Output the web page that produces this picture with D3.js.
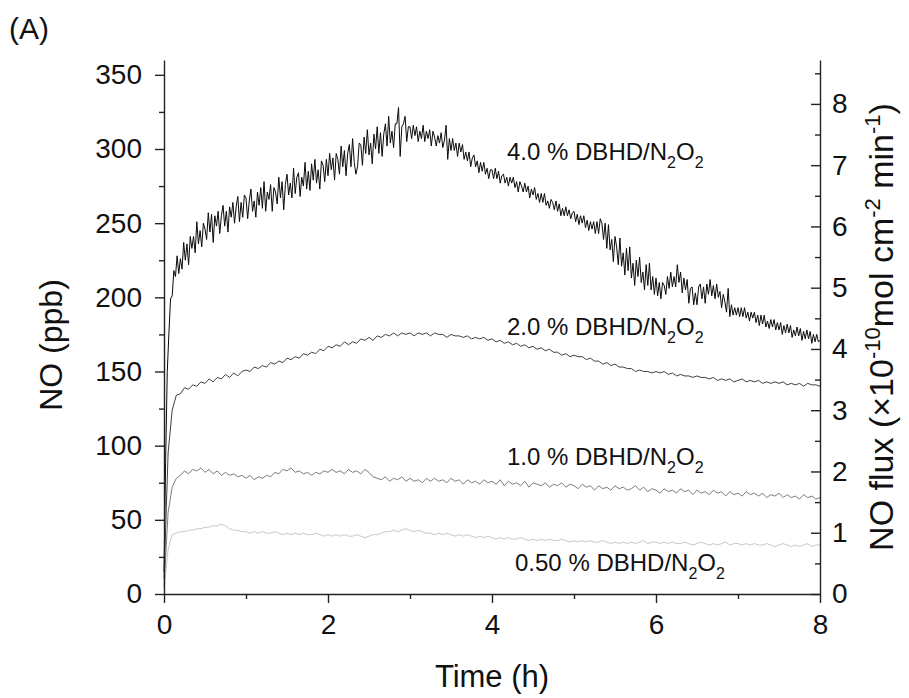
<!DOCTYPE html>
<html>
<head>
<meta charset="utf-8">
<script src="https://cdn.jsdelivr.net/npm/d3@7"></script>
<style>
  body { margin: 0; background: #fff; }
  text { font-family: "Liberation Sans", Arial, sans-serif; fill: #111; }
</style>
</head>
<body>
<div id="chart"></div>
<script>
// time grids (h)
var t02 = d3.range(0, 401).map(i => i * 0.02)
var t05 = d3.range(0, 161).map(i => i * 0.05)

// 4.0 % DBHD/N2O2, NO (ppb), every 0.02 h
var s40 = [15,90,150,176,199,201,218,214,228,216,226,219,237,225,236,222,241,233,241,230,251,236,245,234,250,246,239,257,244,256,237,255,248,258,243,255,262,248,258,244,261,254,264,250,261,268,251,264,254,269,
 267,253,265,273,258,265,254,271,262,274,260,278,258,271,266,276,258,274,271,263,281,267,278,259,276,283,269,277,267,287,270,281,284,268,281,275,291,273,285,272,290,279,293,277,286,273,292,289,278,293,
 282,297,286,294,279,297,293,283,302,288,299,282,297,303,288,307,291,283,288,304,303,289,308,297,313,296,304,290,310,300,315,297,311,295,310,317,302,322,304,312,301,317,317,328,295,315,317,322,305,315,
 315,307,316,309,315,305,312,307,316,305,312,307,313,302,312,308,302,309,304,311,301,306,316,293,307,299,307,299,304,295,304,298,303,293,298,292,298,288,294,296,288,292,284,291,285,291,283,287,280,286,
 286,280,287,280,285,277,282,283,277,281,275,281,277,281,274,278,271,278,275,271,277,271,275,267,273,269,274,266,270,264,270,264,270,262,265,260,266,264,259,265,258,263,255,260,255,261,255,259,253,257,
 258,251,256,249,255,250,255,247,252,245,251,246,251,243,251,243,253,250,239,250,233,249,232,239,224,241,234,222,240,221,230,215,233,218,234,213,223,208,225,214,227,210,217,205,222,208,223,205,214,202,
 213,201,210,199,210,208,202,214,206,217,207,214,207,222,210,217,203,213,205,212,196,206,207,195,203,195,207,209,199,207,196,209,202,212,201,208,199,209,200,204,193,202,197,190,206,187,195,188,193,188,
 193,187,193,187,193,186,190,184,190,186,190,183,188,181,188,182,188,180,184,179,185,180,185,178,183,178,183,175,181,176,182,176,181,173,178,174,180,174,179,171,177,172,178,172,177,169,175,170,175,170,171]

// 2.0 %, every 0.05 h
var s20 = [10,95,124,134,135,139,138,141,140,143,142,145,143,146,145,148,146,149,147,150,
 151,150,153,152,154,153,156,155,157,156,159,158,160,159,162,161,163,162,165,164,
 167,166,168,167,170,168,170,169,172,171,173,171,174,173,175,174,176,174,176,175,
 176,174,176,175,176,174,176,175,175,173,175,174,174,173,174,172,173,172,173,171,
 172,170,171,169,170,168,169,167,168,166,167,165,166,164,165,163,163,161,162,160,
 161,160,160,158,159,157,157,155,156,154,155,153,153,152,152,150,151,150,150,149,
 150,149,150,148,149,147,148,147,147,146,147,146,146,145,146,144,145,144,145,143,
 144,145,143,144,143,144,142,143,142,143,142,143,141,142,141,142,140,142,141,141,140]

// 1.0 %, every 0.05 h
var s10 = [5,55,72,78,80,83,81,84,83,85,82,84,81,83,80,82,80,81,79,80,
 78,80,77,79,78,80,79,82,81,84,83,85,82,83,81,82,80,82,81,83,
 82,84,82,83,81,84,82,83,81,84,82,79,78,77,79,76,78,77,79,76,
 78,76,77,75,78,76,78,76,77,75,78,76,77,74,77,75,76,74,77,75,
 76,74,77,73,76,74,75,73,76,72,75,74,73,75,72,74,73,75,72,74,
 73,71,74,72,73,70,73,71,72,70,73,71,72,70,71,73,70,72,69,71,
 70,68,71,69,70,68,71,69,70,67,70,68,69,67,70,68,69,66,69,67,
 68,66,69,67,68,66,68,65,67,66,68,65,67,65,66,64,67,65,66,64,65]

// 0.50 %, every 0.05 h
var s05 = [3,30,40,41,42,42,43,43,44,44,45,45,46,46,47,46,44,43,43,42,
 42,41,42,41,42,41,41,42,41,40,41,40,41,40,41,40,40,41,40,39,
 40,39,40,39,40,39,39,40,39,38,39,40,40,41,42,42,43,42,43,44,
 43,42,43,42,41,41,40,41,40,41,40,39,40,39,40,39,38,39,38,39,
 38,37,38,37,38,37,37,38,37,36,37,36,37,36,37,36,36,37,36,35,
 36,35,36,35,36,35,35,36,35,34,35,34,35,34,35,34,35,36,34,35,
 35,34,35,34,35,34,34,35,34,33,34,35,34,33,34,33,34,35,33,34,
 34,33,34,33,34,33,33,34,33,32,33,34,33,32,33,32,33,34,32,33,33]

var xTicks = [0, 2, 4, 6, 8]
var yTicks = [0, 50, 100, 150, 200, 250, 300, 350]
var fluxTicks = [0, 1, 2, 3, 4, 5, 6, 7, 8]
var seriesNames = ["4.0", "2.0", "1.0", "0.50"]
var seriesColors = ["#0a0a0a", "#404040", "#7c7c7c", "#c8c8c8"]

var svg = d3.select("#chart").append("svg")
    .attr("width", 909)
    .attr("height", 698)

var x = d3.scaleLinear().domain([0, 8]).range([164, 820])
var y = d3.scaleLinear().domain([0, 360]).range([594, 60])
// 1 flux unit (x10^-10 mol cm-2 min-1) = 41.3 ppb
var y2 = d3.scaleLinear().domain([0, 360 / 41.3]).range([594, 60])

var line = d3.line().x(d => x(d[0])).y(d => y(d[1]))

var series = [
    {t: t02, v: s40, w: 1},
    {t: t05, v: s20, w: 1},
    {t: t05, v: s10, w: 1},
    {t: t05, v: s05, w: 1}
]

series.forEach((s, i) => {
    svg.append("path")
        .datum(s.v.map((v, j) => [s.t[j], v]))
        .attr("d", line)
        .attr("fill", "none")
        .attr("stroke", seriesColors[i])
        .attr("stroke-width", s.w)
        .attr("stroke-linejoin", "round")
})

// axes
svg.append("g")
    .attr("transform", "translate(0,594)")
    .call(d3.axisBottom(x).tickValues(xTicks).tickSize(9).tickSizeOuter(0).tickPadding(11).tickFormat(d3.format("d")))
svg.append("g")
    .attr("transform", "translate(0,594)")
    .call(d3.axisBottom(x).tickValues([1, 3, 5, 7]).tickSize(5).tickFormat(""))
    .select(".domain").remove()

svg.append("g")
    .attr("transform", "translate(164,0)")
    .call(d3.axisLeft(y).tickValues(yTicks).tickSize(9).tickSizeOuter(0).tickPadding(13))
svg.append("g")
    .attr("transform", "translate(164,0)")
    .call(d3.axisLeft(y).tickValues(d3.range(25, 360, 50)).tickSize(5).tickFormat(""))
    .select(".domain").remove()

svg.append("g")
    .attr("transform", "translate(820,0)")
    .call(d3.axisRight(y2).tickValues(fluxTicks).tickSize(-9).tickSizeOuter(0).tickPadding(12))
svg.append("g")
    .attr("transform", "translate(820,0)")
    .call(d3.axisRight(y2).tickValues(d3.range(0.5, 8.6, 1)).tickSize(-5).tickFormat(""))
    .select(".domain").remove()

svg.selectAll(".domain, .tick line")
    .attr("stroke", "#222")
    .attr("stroke-width", 1.4)
svg.selectAll(".tick text")
    .attr("font-family", "Liberation Sans, Arial, sans-serif")
    .style("font-size", "28px")
    .attr("fill", "#111")

// axis titles
svg.append("text")
    .attr("x", 492)
    .attr("y", 687)
    .attr("text-anchor", "middle")
    .style("font-size", "31px")
    .text("Time (h)")

svg.append("text")
    .attr("transform", "translate(62,345) rotate(-90)")
    .attr("text-anchor", "middle")
    .style("font-size", "32px")
    .text("NO (ppb)")

var fluxTitle = svg.append("text")
    .attr("transform", "translate(893,327) rotate(-90)")
    .attr("text-anchor", "middle")
    .style("font-size", "34px")
fluxTitle.append("tspan").text("NO flux (\u00d710")
fluxTitle.append("tspan").attr("dy", -13).style("font-size", "22px").text("-10")
fluxTitle.append("tspan").attr("dy", 13).text("mol cm")
fluxTitle.append("tspan").attr("dy", -13).style("font-size", "22px").text("-2")
fluxTitle.append("tspan").attr("dy", 13).text(" min")
fluxTitle.append("tspan").attr("dy", -13).style("font-size", "22px").text("-1")
fluxTitle.append("tspan").attr("dy", 13).text(")")

svg.append("text")
    .attr("x", 9)
    .attr("y", 39)
    .style("font-size", "30px")
    .text("(A)")

// series labels
var labelPos = [[507, 160], [507, 335], [507, 465], [515, 571]]
seriesNames.forEach((n, i) => {
    var t = svg.append("text")
        .attr("x", labelPos[i][0])
        .attr("y", labelPos[i][1])
        .style("font-size", "24px")
    t.append("tspan").text(n + " % DBHD/N")
    t.append("tspan").attr("dy", 8).style("font-size", "16px").text("2")
    t.append("tspan").attr("dy", -8).text("O")
    t.append("tspan").attr("dy", 8).style("font-size", "16px").text("2")
})
</script>
</body>
</html>
